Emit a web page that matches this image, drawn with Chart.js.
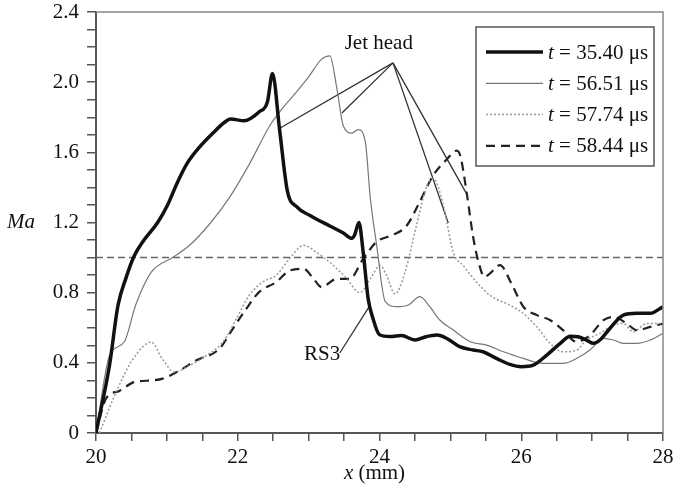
<!DOCTYPE html>
<html>
<head>
<meta charset="utf-8">
<script src="https://cdn.jsdelivr.net/npm/chart.js@4.4.1/dist/chart.umd.min.js"></script>
<style>
    body { margin: 0; background: #fff; }
    canvas { display: block; }
</style>
</head>
<body>
<canvas id="grafico" width="674" height="496"></canvas>
<script>
// t = 35.40 us
var x35 = [20, 20.19, 20.31, 20.42, 20.54, 20.66, 20.87, 21.01, 21.15, 21.29, 21.46, 21.65, 21.81, 21.90, 22.09, 22.30, 22.42, 22.49, 22.59, 22.70, 22.83, 23.02, 23.30, 23.49, 23.61, 23.65, 23.71, 23.77, 23.84, 23.91, 24.0, 24.15, 24.31, 24.50, 24.66, 24.81, 24.95, 25.13, 25.32, 25.46, 25.65, 25.84, 26.0, 26.17, 26.36, 26.55, 26.69, 26.80, 26.92, 27.02, 27.11, 27.25, 27.44, 27.63, 27.82, 28.0];
var y35 = [0, 0.385, 0.727, 0.88, 1.01, 1.09, 1.20, 1.30, 1.43, 1.54, 1.63, 1.71, 1.77, 1.79, 1.78, 1.83, 1.89, 2.05, 1.73, 1.38, 1.29, 1.24, 1.18, 1.14, 1.11, 1.13, 1.20, 1.03, 0.765, 0.65, 0.56, 0.55, 0.556, 0.53, 0.549, 0.558, 0.539, 0.492, 0.473, 0.463, 0.425, 0.391, 0.378, 0.387, 0.444, 0.511, 0.552, 0.549, 0.530, 0.511, 0.530, 0.596, 0.672, 0.682, 0.682, 0.72];

// t = 56.51 us
var x56 = [20, 20.19, 20.40, 20.56, 20.78, 21.08, 21.32, 21.60, 21.88, 22.16, 22.45, 22.63, 22.82, 23.0, 23.18, 23.30, 23.40, 23.49, 23.61, 23.70, 23.80, 23.87, 23.96, 24.08, 24.24, 24.41, 24.57, 24.71, 24.85, 25.04, 25.28, 25.51, 25.75, 26.03, 26.31, 26.59, 26.78, 26.97, 27.16, 27.30, 27.44, 27.63, 27.82, 28.0];
var y56 = [0, 0.44, 0.52, 0.73, 0.917, 1.0, 1.07, 1.19, 1.34, 1.53, 1.75, 1.85, 1.94, 2.03, 2.13, 2.15, 1.96, 1.75, 1.71, 1.73, 1.66, 1.34, 1.07, 0.75, 0.72, 0.73, 0.777, 0.72, 0.644, 0.587, 0.52, 0.501, 0.463, 0.425, 0.397, 0.397, 0.425, 0.473, 0.539, 0.530, 0.511, 0.511, 0.530, 0.568];

// t = 57.74 us
var x57 = [20.05, 20.28, 20.52, 20.78, 20.94, 21.11, 21.32, 21.55, 21.79, 21.98, 22.16, 22.35, 22.54, 22.73, 22.93, 23.11, 23.35, 23.54, 23.72, 23.87, 24.01, 24.10, 24.22, 24.36, 24.52, 24.67, 24.76, 24.90, 25.04, 25.18, 25.37, 25.56, 25.84, 26.03, 26.22, 26.41, 26.59, 26.78, 26.92, 27.11, 27.30, 27.44, 27.58, 27.77, 28.0];
var y57 = [0, 0.23, 0.42, 0.518, 0.42, 0.347, 0.385, 0.44, 0.518, 0.65, 0.784, 0.86, 0.898, 0.993, 1.07, 1.03, 0.955, 0.879, 0.80, 0.879, 0.955, 0.898, 0.793, 0.917, 1.18, 1.41, 1.45, 1.30, 1.03, 0.955, 0.86, 0.784, 0.729, 0.681, 0.605, 0.51, 0.463, 0.472, 0.53, 0.568, 0.615, 0.624, 0.577, 0.624, 0.624];

// t = 58.44 us
var x58 = [20, 20.14, 20.33, 20.54, 20.80, 20.94, 21.18, 21.41, 21.74, 21.93, 22.12, 22.30, 22.54, 22.74, 22.93, 23.07, 23.18, 23.40, 23.58, 23.77, 23.96, 24.19, 24.38, 24.57, 24.76, 24.95, 25.09, 25.14, 25.23, 25.32, 25.40, 25.48, 25.56, 25.70, 25.86, 26.03, 26.22, 26.41, 26.59, 26.78, 26.97, 27.16, 27.30, 27.49, 27.63, 27.82, 28.0];
var y58 = [0, 0.195, 0.24, 0.29, 0.30, 0.31, 0.356, 0.413, 0.48, 0.594, 0.708, 0.803, 0.86, 0.927, 0.936, 0.879, 0.832, 0.879, 0.879, 0.993, 1.09, 1.13, 1.18, 1.32, 1.47, 1.56, 1.61, 1.58, 1.37, 1.12, 0.97, 0.89, 0.91, 0.957, 0.853, 0.72, 0.672, 0.643, 0.586, 0.52, 0.558, 0.643, 0.662, 0.624, 0.586, 0.605, 0.624];

var legendas = ['35.40', '56.51', '57.74', '58.44'];

// linha Ma = 1
var refX = [20, 28];
var refY = [1.0, 1.0];

// anotacoes
var jetHead = [24.19, 2.11];
var jetAlvos = [[22.60, 1.739], [23.47, 1.824], [24.97, 1.197], [25.23, 1.363]];
var rs3Linha = [[23.44, 0.456], [23.87, 0.73]];
var textos = [['Jet head', 23.99, 2.22], ['RS3', 23.19, 0.45]];

var fonte = "'Liberation Serif', 'Times New Roman', Tinos, 'DejaVu Serif', serif";
var tam = 21;

function pontos(xs, ys) {
    var arr = [];
    for (let i = 0; i < xs.length; i++) {
        arr.push({ x: xs[i], y: ys[i] });
    }
    return arr;
}

var estilos = [
    { borderColor: '#111', borderWidth: 3.5, borderDash: [] },
    { borderColor: '#777', borderWidth: 1.2, borderDash: [] },
    { borderColor: '#999', borderWidth: 1.5, borderDash: [2, 2] },
    { borderColor: '#222', borderWidth: 2.2, borderDash: [9, 6] }
];

var series = [pontos(x35, y35), pontos(x56, y56), pontos(x57, y57), pontos(x58, y58)];
var datasets = [];

for (let i = 0; i < series.length; i++) {
    datasets.push({
        label: 't = ' + legendas[i] + ' μs',
        data: series[i],
        borderColor: estilos[i].borderColor,
        borderWidth: estilos[i].borderWidth,
        borderDash: estilos[i].borderDash,
        pointRadius: 0,
        cubicInterpolationMode: 'monotone',
        fill: false
    });
}

datasets.push({
    label: 'ref',
    data: pontos(refX, refY),
    borderColor: '#666',
    borderWidth: 1.5,
    borderDash: [7, 4],
    pointRadius: 0
});

for (let k = 0; k < jetAlvos.length; k++) {
    datasets.push({
        label: 'jet' + k,
        data: [{ x: jetHead[0], y: jetHead[1] }, { x: jetAlvos[k][0], y: jetAlvos[k][1] }],
        borderColor: '#333',
        borderWidth: 1.3,
        pointRadius: 0
    });
}

datasets.push({
    label: 'rs3',
    data: pontos([rs3Linha[0][0], rs3Linha[1][0]], [rs3Linha[0][1], rs3Linha[1][1]]),
    borderColor: '#333',
    borderWidth: 1.3,
    pointRadius: 0
});

var desenhos = {
    id: 'desenhos',
    afterDraw: function (chart) {
        var ctx = chart.ctx;
        var area = chart.chartArea;
        var sx = chart.scales.x;
        var sy = chart.scales.y;

        // moldura de cima e da direita
        ctx.save();
        ctx.strokeStyle = '#888';
        ctx.lineWidth = 1.5;
        ctx.beginPath();
        ctx.moveTo(area.left, area.top);
        ctx.lineTo(area.right, area.top);
        ctx.lineTo(area.right, area.bottom);
        ctx.stroke();

        ctx.fillStyle = '#111';
        ctx.textBaseline = 'middle';
        ctx.textAlign = 'center';
        ctx.font = tam + 'px ' + fonte;
        for (let i = 0; i < textos.length; i++) {
            ctx.fillText(textos[i][0], sx.getPixelForValue(textos[i][1]), sy.getPixelForValue(textos[i][2]));
        }

        // titulos dos eixos
        ctx.font = 'italic ' + tam + 'px ' + fonte;
        ctx.fillText('Ma', 21, (area.top + area.bottom) / 2);

        var cx = (area.left + area.right) / 2 - 5;
        ctx.font = 'italic ' + tam + 'px ' + fonte;
        var w1 = ctx.measureText('x').width;
        ctx.font = tam + 'px ' + fonte;
        var w2 = ctx.measureText(' (mm)').width;
        var x0 = cx - (w1 + w2) / 2;
        ctx.textAlign = 'left';
        ctx.font = 'italic ' + tam + 'px ' + fonte;
        ctx.fillText('x', x0, 473);
        ctx.font = tam + 'px ' + fonte;
        ctx.fillText(' (mm)', x0 + w1, 473);

        // legenda
        var bx = area.right - 187;
        var by = area.top + 15;
        ctx.fillStyle = '#fff';
        ctx.fillRect(bx, by, 178, 139);
        ctx.strokeStyle = '#555';
        ctx.lineWidth = 1.5;
        ctx.strokeRect(bx, by, 178, 139);

        for (let i = 0; i < legendas.length; i++) {
            var ly = by + 25 + i * 31.3;
            ctx.strokeStyle = estilos[i].borderColor;
            ctx.lineWidth = estilos[i].borderWidth;
            ctx.setLineDash(estilos[i].borderDash);
            ctx.beginPath();
            ctx.moveTo(bx + 10, ly);
            ctx.lineTo(bx + 67, ly);
            ctx.stroke();
            ctx.setLineDash([]);

            ctx.fillStyle = '#111';
            ctx.font = 'italic ' + tam + 'px ' + fonte;
            ctx.fillText('t', bx + 72, ly + 1);
            var wt = ctx.measureText('t').width;
            ctx.font = tam + 'px ' + fonte;
            ctx.fillText(' = ' + legendas[i] + ' μs', bx + 72 + wt, ly + 1);
        }
        ctx.restore();
    }
};

function desenhar() {
    var grafico = new Chart(document.getElementById('grafico'), {
        type: 'line',
        data: { datasets: datasets },
        options: {
            responsive: false,
            animation: false,
            layout: {
                padding: { top: 12, right: 11, left: 0, bottom: 0 }
            },
            plugins: {
                legend: { display: false },
                tooltip: { enabled: false }
            },
            scales: {
                x: {
                    type: 'linear',
                    min: 20,
                    max: 28,
                    afterFit: function (scale) {
                        scale.height = 63;
                        scale.paddingLeft = 0;
                        scale.paddingRight = 0;
                    },
                    border: { color: '#555', width: 2 },
                    grid: { drawOnChartArea: false, color: '#555', lineWidth: 1.5, tickLength: 8 },
                    ticks: {
                        stepSize: 0.5,
                        autoSkip: false,
                        maxRotation: 0,
                        padding: 4,
                        color: '#111',
                        font: { family: fonte, size: tam },
                        callback: function (v) {
                            return (Math.abs(v / 2 - Math.round(v / 2)) < 1e-6) ? String(v) : '';
                        }
                    }
                },
                y: {
                    min: 0,
                    max: 2.4,
                    afterFit: function (scale) {
                        scale.width = 96;
                        scale.paddingTop = 0;
                        scale.paddingBottom = 0;
                    },
                    border: { color: '#555', width: 2 },
                    grid: { drawOnChartArea: false, color: '#555', lineWidth: 1.5, tickLength: 9 },
                    ticks: {
                        stepSize: 0.1,
                        autoSkip: false,
                        padding: 8,
                        color: '#111',
                        font: { family: fonte, size: tam },
                        callback: function (v) {
                            if (Math.abs(v / 0.4 - Math.round(v / 0.4)) > 1e-6) return '';
                            return v == 0 ? '0' : v.toFixed(1);
                        }
                    }
                }
            }
        },
        plugins: [desenhos]
    });
}

if (document.fonts && document.fonts.load) {
    Promise.all([
        document.fonts.load("21px 'Liberation Serif'"),
        document.fonts.load("italic 21px 'Liberation Serif'")
    ]).then(desenhar, desenhar);
} else {
    desenhar();
}
</script>
</body>
</html>
